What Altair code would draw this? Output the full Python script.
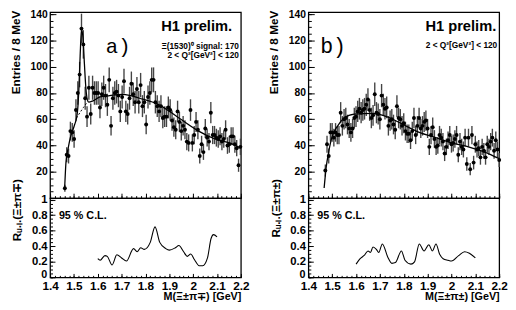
import altair as alt
import pandas as pd
import numpy as np

# ---------------- data ----------------
a_first, a_last = 1.462, 2.198
a_counts = [7.5, 33, 32, 51, 50, 45, 67, 80, 94, 129, 117, 76, 62, 84, 64, 84, 80, 80, 80, 69,
            79, 84, 78, 71, 90, 55, 76, 80, 81, 78, 66, 77, 89, 66, 64, 76, 87, 79, 73, 83,
            73, 86, 70, 73, 56, 77, 80, 90, 90, 73, 70, 66, 70, 61, 62, 62, 69, 67, 59, 54,
            52, 66, 58, 51, 55, 52, 43, 42, 67, 42, 48, 58, 52, 32, 41, 35, 53, 46, 43, 65,
            48, 48, 46, 45, 47, 43, 45, 52, 40, 41, 47, 47, 41, 38, 25, 39]
a_fit_m = [1.461, 1.467, 1.476, 1.485, 1.494, 1.503, 1.511, 1.516, 1.521, 1.526, 1.532, 1.538,
           1.544, 1.550, 1.556, 1.562, 1.58, 1.609, 1.65, 1.706, 1.775, 1.857, 1.94, 2.023,
           2.091, 2.16, 2.199]
a_fit_v = [7, 28, 38, 46, 51, 56, 61, 68, 84, 108, 128, 122, 102, 84, 75, 73, 74, 77, 78, 79,
           76, 71, 61, 51, 45, 41.5, 38]
a_bg_m = [1.511, 1.525, 1.540, 1.556]
a_bg_v = [61, 65, 69, 73]

b_first, b_last = 1.471, 2.200
b_counts = [21, 41, 32, 50, 50, 46, 50, 48, 48, 65, 55, 60, 61, 56, 53, 50, 53, 61, 62, 66,
            68, 65, 67, 68, 71, 75, 67, 61, 63, 79, 65, 64, 60, 78, 71, 68, 69, 55, 59, 60,
            56, 52, 70, 61, 60, 55, 57, 51, 49, 49, 44, 51, 61, 48, 55, 61, 53, 55, 58, 59,
            53, 39, 48, 54, 45, 39, 40, 48, 46, 43, 34, 39, 44, 48, 41, 42, 45, 48, 33, 43,
            39, 37, 46, 26, 46, 22, 48, 27, 41, 37, 38, 31, 39, 36, 31, 41, 39, 43, 46, 36,
            44, 37, 29]
b_fit_m = [1.466, 1.475, 1.485, 1.498, 1.523, 1.550, 1.592, 1.667, 1.728, 1.797, 1.865,
           1.934, 2.002, 2.071, 2.139, 2.2]
b_fit_v = [7.7, 24, 35, 46, 55, 61, 64, 64.5, 62, 56, 50, 46, 42, 39, 35, 30]

a_ul_m = [1.600, 1.610, 1.630, 1.640, 1.660, 1.680, 1.700, 1.720, 1.750, 1.765, 1.780, 1.795,
          1.820, 1.840, 1.860, 1.885, 1.900, 1.925, 1.940, 1.960, 1.975, 1.990, 2.005, 2.025,
          2.040, 2.060, 2.075, 2.085, 2.100]
a_ul_v = [0.24, 0.22, 0.28, 0.27, 0.16, 0.29, 0.25, 0.21, 0.37, 0.33, 0.38, 0.36, 0.45, 0.65,
          0.45, 0.37, 0.35, 0.38, 0.41, 0.33, 0.27, 0.30, 0.23, 0.15, 0.15, 0.25, 0.50, 0.55, 0.52]

b_ul_m = [1.600, 1.615, 1.635, 1.650, 1.660, 1.671, 1.685, 1.695, 1.710, 1.733, 1.750, 1.765,
          1.790, 1.805, 1.830, 1.845, 1.865, 1.885, 1.905, 1.920, 1.935, 1.950, 1.965, 1.985,
          2.000, 2.030, 2.055, 2.075, 2.100]
b_ul_v = [0.17, 0.235, 0.285, 0.34, 0.32, 0.39, 0.36, 0.32, 0.43, 0.26, 0.18, 0.19, 0.34, 0.22,
          0.17, 0.20, 0.43, 0.34, 0.42, 0.34, 0.43, 0.30, 0.24, 0.22, 0.21, 0.28, 0.33, 0.31, 0.25]

x_major = [1.4, 1.5, 1.6, 1.7, 1.8, 1.9, 2.0, 2.1, 2.2]
x_minor = [round(1.4 + 0.02 * i, 2) for i in range(41)]
top_major = [0, 20, 40, 60, 80, 100, 120, 140]
top_labels = [20, 40, 60, 80, 100, 120, 140]
top_minor = [5 * i for i in range(29)]
low_major = [0, 0.2, 0.4, 0.6, 0.8, 1.0]
low_labels = [0.2, 0.4, 0.6, 0.8, 1.0]
low_zero_label = 0
low_minor = [round(0.05 * i, 2) for i in range(21)]

# ---------------- styling ----------------
FONT = "Liberation Sans"
W = 195
H_TOP = 190
H_LOW = 81
XDOM = [1.4, 2.2]
TOPDOM = [0, 141.5]
LOWDOM = [0, 1.02]


def tick_layers(ydom, ymaj, ymin, ymaj_size, xmaj_size):
    base = alt.Chart(pd.DataFrame({"m": [XDOM[0]], "v": [ydom[0]]}))
    out = []
    for xv, yv, sx, sy in [(x_major, ymaj, xmaj_size, ymaj_size),
                           (x_minor, ymin, xmaj_size / 2, ymaj_size / 2)]:
        out.append(base.mark_point(opacity=0, size=1).encode(
            x=alt.X("m:Q", scale=alt.Scale(domain=XDOM, nice=False, zero=False),
                    axis=alt.Axis(orient="bottom", values=xv, labels=False, ticks=True,
                                  tickSize=sx, offset=-sx, domain=False, grid=False,
                                  title=None, tickColor="black", tickWidth=1)),
            y=alt.Y("v:Q", scale=alt.Scale(domain=ydom, nice=False, zero=False),
                    axis=alt.Axis(orient="left", values=yv, labels=False, ticks=True,
                                  tickSize=sy, offset=-sy, domain=False, grid=False,
                                  title=None, tickColor="black", tickWidth=1)),
        ))
    return out


def text_layer(txt, px, py, size, align="left", font=FONT, weight="bold"):
    return alt.Chart(pd.DataFrame({"t": [txt]})).mark_text(
        font=font, fontSize=size, fontWeight=weight, align=align, baseline="alphabetic",
        color="black").encode(x=alt.value(px), y=alt.value(py), text="t:N")


def top_panel(first, last, counts, fit_m, fit_v, texts, bg_m=None, bg_v=None):
    mass = np.linspace(first, last, len(counts))
    c = np.array(counts, dtype=float)
    err = np.sqrt(c)
    df = pd.DataFrame({"m": mass, "n": c, "lo": c - err, "hi": np.minimum(c + err, TOPDOM[1])})
    xs = alt.Scale(domain=XDOM, nice=False, zero=False)
    ys = alt.Scale(domain=TOPDOM, nice=False, zero=False)
    main = alt.Chart(df).mark_rule(color="#444", strokeWidth=1.4).encode(
        x=alt.X("m:Q", scale=xs, axis=None),
        y=alt.Y("lo:Q", scale=ys,
                axis=alt.Axis(orient="left", values=top_labels, ticks=False, domain=False,
                              grid=False, labelFont=FONT, labelFontSize=10.5,
                              labelFontWeight="bold", labelColor="black", labelPadding=3,
                              title="Entries / 8 MeV", titleFont=FONT, titleFontSize=12,
                              titleFontWeight="bold", titleColor="black",
                              titleAnchor="end", titleAlign="right", titleAngle=270,
                              titleY=-2, titlePadding=8)),
        y2="hi:Q")
    pts = alt.Chart(df).mark_circle(size=16, color="black", opacity=1).encode(
        x=alt.X("m:Q", scale=xs, axis=None), y=alt.Y("n:Q", scale=ys, axis=None))
    fdf = pd.DataFrame({"m": fit_m, "v": fit_v})
    fit = alt.Chart(fdf).mark_line(color="black", strokeWidth=1.3, interpolate="monotone").encode(
        x=alt.X("m:Q", scale=xs, axis=None), y=alt.Y("v:Q", scale=ys, axis=None))
    layers = [main, pts, fit]
    if bg_m is not None:
        bdf = pd.DataFrame({"m": bg_m, "v": bg_v})
        layers.append(alt.Chart(bdf).mark_line(color="black", strokeWidth=1,
                                               strokeDash=[2, 2]).encode(
            x=alt.X("m:Q", scale=xs, axis=None), y=alt.Y("v:Q", scale=ys, axis=None)))
    layers += tick_layers(TOPDOM, top_major, top_minor, 6, 5)
    layers += [text_layer(*t[:4], **t[4]) for t in texts]
    return alt.layer(*layers).resolve_axis(x="independent", y="independent").properties(
        width=W, height=H_TOP)


def low_panel(m, v, xtitle, ytitle):
    xs = alt.Scale(domain=XDOM, nice=False, zero=False)
    ys = alt.Scale(domain=LOWDOM, nice=False, zero=False)
    df = pd.DataFrame({"m": m, "v": v})
    line = alt.Chart(df).mark_line(color="black", strokeWidth=1.1,
                                   interpolate="monotone").encode(
        x=alt.X("m:Q", scale=xs,
                axis=alt.Axis(orient="bottom", values=x_major, format="~g", ticks=False,
                              domain=False, grid=False, labelFlush=False, labelFont=FONT,
                              labelFontSize=12, labelFontWeight="bold", labelColor="black",
                              labelPadding=3, title=xtitle, titleFont=FONT, titleFontSize=11,
                              titleFontWeight="bold", titleColor="black", titleAnchor="end",
                              titlePadding=0)),
        y=alt.Y("v:Q", scale=ys,
                axis=alt.Axis(orient="left", values=low_labels, format="~g", ticks=False,
                              domain=False, grid=False, labelFont=FONT, labelFontSize=11.5,
                              labelFontWeight="bold", labelColor="black", labelPadding=3,
                              labelOverlap=False,
                              title=ytitle, titleFont=FONT, titleFontSize=12,
                              titleFontWeight="bold", titleColor="black", titleAnchor="end",
                              titleAlign="right", titleAngle=270, titlePadding=8,
                              titleY=-20)))
    # the "0" tick label of the lower axis, sitting on the axis line
    zero = alt.Chart(pd.DataFrame({"v": [low_zero_label], "t": ["0"]})).mark_text(
        font=FONT, fontSize=11, fontWeight="bold", align="right", baseline="alphabetic",
        color="black", dy=0.5).encode(
        x=alt.value(-3), y=alt.Y("v:Q", scale=ys, axis=None), text="t:N")
    layers = [line, zero] + tick_layers(LOWDOM, low_major, low_minor, 5, 4)
    layers.append(text_layer("95 % C.L.", 9, 21, 11))
    return alt.layer(*layers).resolve_axis(x="independent", y="independent").properties(
        width=W, height=H_LOW)


top_a = top_panel(a_first, a_last, a_counts, a_fit_m, a_fit_v, [
    ("H1 prelim.", 186, 19, 15, {"align": "right"}),
    ("a)", 57, 42, 21, {"font": "Liberation Mono", "weight": "normal"}),
    ("\u039e(1530)\u2070 signal: 170", 193, 38, 8.5, {"align": "right"}),
    ("2 < Q\u00b2[GeV\u00b2] < 120", 193, 47, 8.5, {"align": "right"}),
], a_bg_m, a_bg_v)

top_b = top_panel(b_first, b_last, b_counts, b_fit_m, b_fit_v, [
    ("H1 prelim.", 192, 19, 15, {"align": "right"}),
    ("b)", 12, 42, 22, {"font": "Liberation Mono", "weight": "normal"}),
    ("2 < Q\u00b2[GeV\u00b2] < 120", 193, 37, 8.5, {"align": "right"}),
])

low_a = low_panel(a_ul_m, a_ul_v, "M(\u039e\u00b1\u03c0\u2213) [GeV]",
                  "R\u1d64.\u2097.(\u039e\u00b1\u03c0\u2213)")
low_b = low_panel(b_ul_m, b_ul_v, "M(\u039e\u00b1\u03c0\u00b1) [GeV]",
                  "R\u1d64.\u2097.(\u039e\u00b1\u03c0\u00b1)")

col_a = alt.VConcatChart(vconcat=[top_a, low_a], spacing=0, bounds="flush")
col_b = alt.VConcatChart(vconcat=[top_b, low_b], spacing=0, bounds="flush")

chart = alt.HConcatChart(hconcat=[col_a, col_b], spacing=17).configure(
    padding={"top": -3, "left": 0, "right": 0, "bottom": 0}, background="white"
).configure_view(stroke="black", strokeWidth=1.3)

chart.save("out.html", embed_options={"renderer": "svg", "actions": False})
